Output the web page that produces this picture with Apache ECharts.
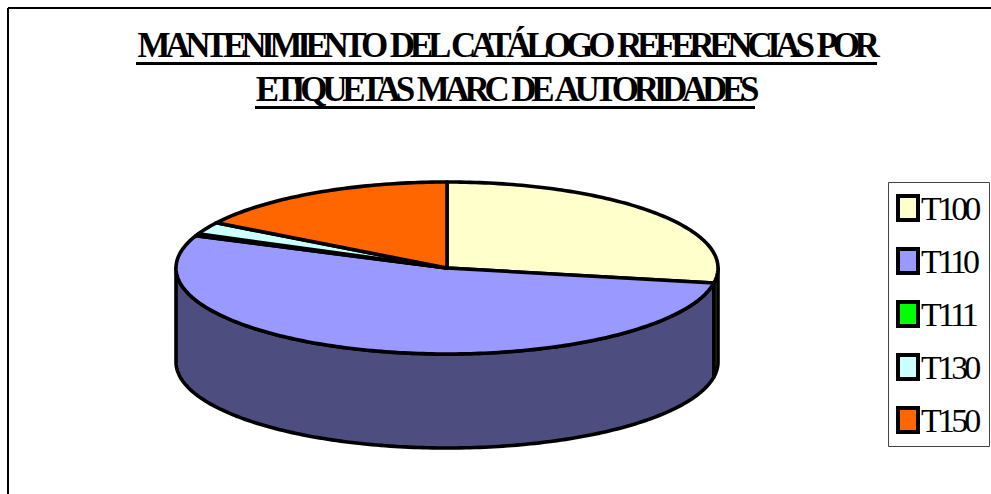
<!DOCTYPE html>
<html>
<head>
<meta charset="utf-8">
<style>
	html, body { margin: 0; padding: 0; background: #fff; }
	#main { width: 991px; height: 494px; }
	#main text { letter-spacing: -3.8px; }
	#main text[style*="bold"] { letter-spacing: -5.3px; word-spacing: 3.5px; }
</style>
<script src="https://cdn.jsdelivr.net/npm/echarts@6/dist/echarts.min.js"></script>
</head>
<body>
<div id="main"></div>
<script>
var titleLines = ['MANTENIMIENTO DEL CATÁLOGO REFERENCIAS POR', 'ETIQUETAS MARC DE AUTORIDADES'];
var names = ['T100', 'T110', 'T111', 'T130', 'T150'];
var values = [27.8, 53.3, 0.4, 2.3, 16.2];
var topColors = ['#ffffcc', '#9999ff', '#00ff00', '#ccffff', '#ff6600'];
var sideColors = ['#80806a', '#4d4d80', '#008000', '#668080', '#803300'];

var cx = 447, cy = 268, rx = 271, ry = 86, depth = 94;

function total() {
	var s = 0;
	for (var i = 0; i < values.length; i++) s += values[i];
	return s;
}

// angles are clockwise from the top of the pie
function pt(deg, drop) {
	var a = deg * Math.PI / 180;
	return [cx + rx * Math.sin(a), cy - ry * Math.cos(a) + (drop || 0)];
}

function arc(from, to, drop) {
	var pts = [];
	for (var d = from; d < to; d += 1) pts.push(pt(d, drop));
	pts.push(pt(to, drop));
	return pts;
}

function drawSlice(params, api) {
	var idx = params.seriesIndex, sum = total(), before = 0;
	for (var i = 0; i < idx; i++) before += values[i];
	var start = before / sum * 360;
	var end = start + api.value(0) / sum * 360;
	var children = [];

	// side wall, only the part facing the viewer
	var s = Math.max(start, 90), e = Math.min(end, 270);
	if (e > s) {
		children.push({
			type: 'polygon',
			shape: { points: arc(s, e, 0).concat(arc(s, e, depth).reverse()) },
			style: { fill: sideColors[idx], stroke: '#000', lineWidth: 3.6, lineJoin: 'round' }
		});
	}
	children.push({
		type: 'polygon',
		shape: { points: [[cx, cy]].concat(arc(start, end, 0)) },
		style: { fill: topColors[idx], stroke: '#000', lineWidth: 3.6, lineJoin: 'round' }
	});
	return { type: 'group', children: children };
}

var series = [], legendData = [];
for (var i = 0; i < names.length; i++) {
	series.push({
		type: 'custom',
		name: names[i],
		coordinateSystem: 'none',
		silent: true,
		itemStyle: { color: topColors[i] },
		renderItem: drawSlice,
		data: [[values[i]]]
	});
	legendData.push({
		name: names[i],
		icon: 'rect',
		itemStyle: { color: topColors[i], borderColor: '#000', borderWidth: 4 }
	});
}

var ec = echarts.init(document.getElementById('main'), null, { renderer: 'svg' });
ec.setOption({
	animation: false,
	backgroundColor: '#fff',
	title: [{
		text: titleLines[0],
		left: 506,
		top: 28,
		textAlign: 'center',
		padding: 0,
		textStyle: { fontFamily: 'Liberation Serif', fontSize: 35, fontWeight: 'bold', color: '#000' }
	}, {
		text: titleLines[1],
		left: 505,
		top: 72,
		textAlign: 'center',
		padding: 0,
		textStyle: { fontFamily: 'Liberation Serif', fontSize: 35, fontWeight: 'bold', color: '#000' }
	}],
	legend: {
		orient: 'vertical',
		left: 896,
		top: 191,
		padding: 0,
		itemWidth: 20,
		itemHeight: 24,
		itemGap: 19,
		selectedMode: false,
		textStyle: { fontFamily: 'Liberation Serif', fontSize: 34, color: '#000', padding: [0, 0, 0, -2] },
		data: legendData
	},
	graphic: [
		{ type: 'line', silent: true, shape: { x1: 8, y1: 8, x2: 991, y2: 8 }, style: { stroke: '#000', lineWidth: 2 } },
		{ type: 'line', silent: true, shape: { x1: 8, y1: 8, x2: 8, y2: 494 }, style: { stroke: '#000', lineWidth: 2 } },
		{ type: 'rect', silent: true, shape: { x: 136, y: 62, width: 741, height: 3 }, style: { fill: '#000' } },
		{ type: 'rect', silent: true, shape: { x: 255, y: 106, width: 500, height: 3 }, style: { fill: '#000' } },
		{ type: 'rect', silent: true, z: -1, shape: { x: 888.5, y: 182.5, width: 101, height: 264 }, style: { fill: '#fff', stroke: '#444', lineWidth: 1 } }
	],
	series: series
});
</script>
</body>
</html>
